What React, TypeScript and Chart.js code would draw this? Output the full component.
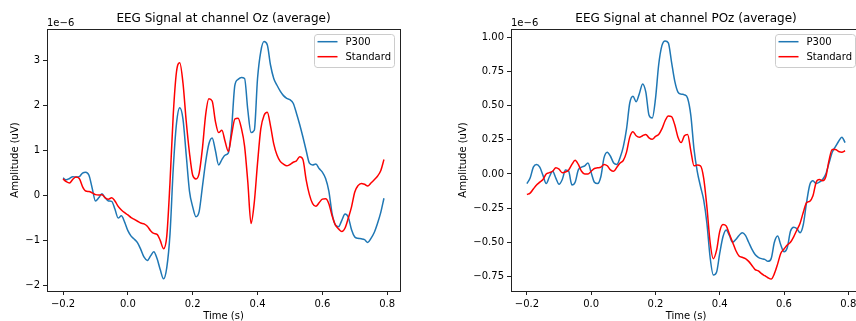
import React, { useEffect, useRef } from "react";
import { Chart, registerables } from "chart.js";
Chart.register(...registerables);

// Time axis (s)
const TIME = [
  -0.2, -0.19, -0.18, -0.17, -0.16, -0.15, -0.14, -0.13, -0.12, -0.11,
  -0.1, -0.09, -0.08, -0.07, -0.06, -0.05, -0.04, -0.03, -0.02, -0.01,
  0.0, 0.01, 0.02, 0.03, 0.04, 0.05, 0.06, 0.07, 0.08, 0.09,
  0.1, 0.11, 0.12, 0.13, 0.14, 0.15, 0.16, 0.17, 0.18, 0.19,
  0.2, 0.21, 0.22, 0.23, 0.24, 0.25, 0.26, 0.27, 0.28, 0.29,
  0.3, 0.31, 0.32, 0.33, 0.34, 0.35, 0.36, 0.37, 0.38, 0.39,
  0.4, 0.41, 0.42, 0.43, 0.44, 0.45, 0.46, 0.47, 0.48, 0.49,
  0.5, 0.51, 0.52, 0.53, 0.54, 0.55, 0.56, 0.57, 0.58, 0.59,
  0.6, 0.61, 0.62, 0.63, 0.64, 0.65, 0.66, 0.67, 0.68, 0.69,
  0.7, 0.71, 0.72, 0.73, 0.74, 0.75, 0.76, 0.77, 0.78, 0.79,
];

// Amplitudes in units of 1e-6
const OZ_P300 = [
  0.39, 0.35, 0.38, 0.42, 0.41, 0.42, 0.5, 0.52, 0.45, 0.16,
  -0.12, -0.05, 0.04, -0.05, -0.12, -0.13, -0.3, -0.5, -0.45, -0.59,
  -0.78, -0.9, -0.97, -1.05, -1.2, -1.37, -1.44, -1.34, -1.25, -1.4,
  -1.65, -1.85, -1.6, -0.85, 0.6, 1.6, 1.95, 1.7, 0.9, 0.1,
  -0.25, -0.47, -0.35, 0.2, 0.75, 1.15, 1.28, 1.0, 0.68, 0.8,
  0.9, 0.95, 1.5, 2.45, 2.58, 2.62, 2.6, 1.9, 1.4, 1.45,
  2.6, 3.2, 3.42, 3.35, 2.9, 2.6, 2.45, 2.32, 2.22, 2.16,
  2.13, 2.05, 1.83, 1.58, 1.3, 1.0, 0.72, 0.68, 0.7, 0.6,
  0.52, 0.38, 0.1, -0.4, -0.65, -0.69, -0.55, -0.41, -0.48, -0.76,
  -0.92, -0.95, -0.96, -0.98, -1.04, -0.95, -0.82, -0.62, -0.38, -0.06,
];
const OZ_STD = [
  0.37, 0.31, 0.28, 0.36, 0.41, 0.38, 0.2, 0.1, 0.09, 0.06,
  0.02, 0.01, 0.02, -0.05, -0.08, -0.05, -0.12, -0.24, -0.32, -0.38,
  -0.43, -0.49, -0.53, -0.57, -0.61, -0.63, -0.68, -0.78, -0.84, -0.86,
  -1.0, -1.18, -0.9, 0.3, 1.8, 2.75, 2.95, 2.5, 1.65, 0.95,
  0.45, 0.37, 0.5, 1.05, 1.8, 2.15, 2.1, 1.65, 1.4, 1.45,
  1.2, 0.98, 1.35, 1.7, 1.72, 1.5, 1.1, 0.3, -0.62, -0.15,
  0.72, 1.48, 1.78, 1.85, 1.55, 1.15, 0.9, 0.76, 0.7, 0.66,
  0.69, 0.74, 0.77, 0.86, 0.8, 0.35, 0.02, -0.18, -0.24, -0.16,
  -0.08, -0.07, -0.18, -0.45, -0.65, -0.74, -0.8, -0.72, -0.5, -0.25,
  0.08, 0.22, 0.27, 0.25, 0.21, 0.28, 0.35, 0.43, 0.55, 0.8,
];
const POZ_P300 = [
  -0.07, -0.03, 0.05, 0.07, 0.05, -0.01, -0.07, -0.02, 0.02, -0.03,
  -0.075, -0.04, 0.03, 0.02, -0.08, -0.06, 0.03, 0.05, 0.06, 0.08,
  0.01, -0.06, -0.07, -0.02, 0.12, 0.16, 0.13, 0.08, 0.07, 0.12,
  0.2, 0.33, 0.52, 0.57, 0.53, 0.59, 0.66, 0.6, 0.43, 0.41,
  0.55, 0.8, 0.94, 0.975, 0.96, 0.82, 0.68, 0.6, 0.585, 0.58,
  0.555, 0.43, 0.18, 0.02, -0.09, -0.19, -0.36, -0.61, -0.74, -0.72,
  -0.58, -0.46, -0.41, -0.45, -0.5, -0.48, -0.45, -0.43, -0.45, -0.5,
  -0.55, -0.59, -0.61, -0.62, -0.625, -0.64, -0.62, -0.5, -0.455, -0.52,
  -0.57, -0.54, -0.42, -0.39, -0.4, -0.43, -0.37, -0.21, -0.08, -0.05,
  -0.07, -0.06, -0.04, 0.0, 0.08, 0.16, 0.2, 0.24, 0.27, 0.23,
];
const POZ_STD = [
  -0.15, -0.14, -0.11, -0.08, -0.06, -0.04, 0.0, 0.01, 0.02, 0.045,
  0.035, 0.01, 0.015, 0.03, 0.07, 0.1, 0.07, 0.02, 0.0, 0.0,
  0.02, 0.04, 0.045, 0.05, 0.07, 0.06, 0.03, 0.02, 0.05, 0.08,
  0.1, 0.16, 0.27, 0.31, 0.28, 0.27, 0.28, 0.29, 0.265, 0.255,
  0.275, 0.29, 0.33, 0.39, 0.425, 0.42, 0.36, 0.27, 0.23, 0.28,
  0.29, 0.17, 0.06, 0.065, 0.06, -0.03, -0.24, -0.5, -0.62, -0.56,
  -0.42, -0.37, -0.38, -0.44, -0.5, -0.56, -0.6, -0.61, -0.62, -0.64,
  -0.67, -0.7, -0.71, -0.73, -0.745, -0.76, -0.77, -0.73, -0.66, -0.58,
  -0.55, -0.52, -0.5, -0.46, -0.41, -0.36, -0.28, -0.21, -0.2, -0.16,
  -0.06, -0.04, -0.05, -0.02, 0.1, 0.18, 0.18, 0.165, 0.16, 0.17,
];

const X_TICKS = [-0.2, 0.0, 0.2, 0.4, 0.6, 0.8];
const OZ_Y_TICKS = [-2, -1, 0, 1, 2, 3];
const POZ_Y_TICKS = [-0.75, -0.5, -0.25, 0.0, 0.25, 0.5, 0.75, 1.0];
const SERIES_NAMES = ["P300", "Standard"];
const TITLES = ["EEG Signal at channel Oz (average)", "EEG Signal at channel POz (average)"];

const BLUE = "#1f77b4";
const RED = "#ff0000";
const FONT = '"DejaVu Sans", sans-serif';
const H = 321;

function fmt(v: number, d: number) {
  const s = Math.abs(v).toFixed(d);
  return (v < -1e-9 ? "\u2212" : "") + s;
}

type Panel = {
  title: string;
  p300: number[];
  std: number[];
  yMin: number;
  yMax: number;
  yTicks: number[];
  yDec: number;
  canvasLeft: number;
  canvasWidth: number;
  areaLeft: number;
  areaRight: number;
  yLabelX: number;
};

const PANELS: Panel[] = [
  {
    title: TITLES[0], p300: OZ_P300, std: OZ_STD, yMin: -2.12, yMax: 3.7, yTicks: OZ_Y_TICKS, yDec: 0,
    canvasLeft: 0, canvasWidth: 428, areaLeft: 47, areaRight: 400, yLabelX: 15.5,
  },
  {
    title: TITLES[1], p300: POZ_P300, std: POZ_STD, yMin: -0.857, yMax: 1.062, yTicks: POZ_Y_TICKS, yDec: 2,
    canvasLeft: 428, canvasWidth: 450, areaLeft: 83, areaRight: 433, yLabelX: 35.5,
  },
];

function PanelChart({ p }: { p: Panel }) {
  const ref = useRef<HTMLCanvasElement | null>(null);
  useEffect(() => {
    if (!ref.current) return;
    const decor = {
      id: "decor",
      afterDraw(chart: any) {
        const ctx = chart.ctx as CanvasRenderingContext2D;
        const a = chart.chartArea;
        ctx.save();
        // frame
        ctx.strokeStyle = "#222";
        ctx.lineWidth = 1;
        ctx.strokeRect(a.left + 0.5, a.top + 0.5, a.right - a.left, a.bottom - a.top);
        ctx.fillStyle = "#000";
        // title
        ctx.font = `12px ${FONT}`;
        ctx.textAlign = "center";
        ctx.textBaseline = "alphabetic";
        ctx.fillText(p.title, (a.left + a.right) / 2, a.top - 7);
        // offset text
        ctx.font = `10px ${FONT}`;
        ctx.textAlign = "left";
        ctx.fillText("1e\u22126", a.left, a.top - 3);
        // x label
        ctx.textAlign = "center";
        ctx.textBaseline = "top";
        ctx.fillText("Time (s)", (a.left + a.right) / 2, 311);
        // y label
        ctx.save();
        ctx.translate(p.yLabelX, (a.top + a.bottom) / 2);
        ctx.rotate(-Math.PI / 2);
        ctx.textBaseline = "middle";
        ctx.textAlign = "center";
        ctx.fillText("Amplitude (uV)", 0, 0);
        ctx.restore();
        // legend
        ctx.font = `10px ${FONT}`;
        const tw = Math.max(...SERIES_NAMES.map((n) => ctx.measureText(n).width));
        const bw = 3.5 + 20 + 8 + tw + 3;
        const bRight = a.right - 6;
        const bLeft = bRight - bw;
        const bTop = a.top + 5;
        const bh = 33;
        const r = 3;
        ctx.beginPath();
        ctx.moveTo(bLeft + r, bTop + 0.5);
        ctx.lineTo(bRight - r, bTop + 0.5);
        ctx.arcTo(bRight + 0.5, bTop + 0.5, bRight + 0.5, bTop + r, r);
        ctx.lineTo(bRight + 0.5, bTop + bh - r);
        ctx.arcTo(bRight + 0.5, bTop + bh + 0.5, bRight - r, bTop + bh + 0.5, r);
        ctx.lineTo(bLeft + r, bTop + bh + 0.5);
        ctx.arcTo(bLeft + 0.5, bTop + bh + 0.5, bLeft + 0.5, bTop + bh - r, r);
        ctx.lineTo(bLeft + 0.5, bTop + r);
        ctx.arcTo(bLeft + 0.5, bTop + 0.5, bLeft + r, bTop + 0.5, r);
        ctx.closePath();
        ctx.fillStyle = "rgba(255,255,255,0.8)";
        ctx.fill();
        ctx.strokeStyle = "#cccccc";
        ctx.lineWidth = 1;
        ctx.stroke();
        const colors = [BLUE, RED];
        SERIES_NAMES.forEach((n, i) => {
          const y = bTop + 7.7 + i * 15;
          const lx = bLeft + 3.5;
          ctx.strokeStyle = colors[i];
          ctx.lineWidth = 1.5;
          ctx.beginPath();
          ctx.moveTo(lx, y);
          ctx.lineTo(lx + 20, y);
          ctx.stroke();
          ctx.fillStyle = "#000";
          ctx.textAlign = "left";
          ctx.textBaseline = "middle";
          ctx.fillText(n, lx + 28, y + 0.5);
        });
        ctx.restore();
      },
    };
    const mk = (vals: number[]) => TIME.map((t, i) => ({ x: t, y: vals[i] }));
    const tickFont = { family: FONT, size: 10 };
    const chart = new Chart(ref.current, {
      type: "line",
      data: {
        datasets: [
          { label: SERIES_NAMES[1], data: mk(p.std), borderColor: RED, borderWidth: 1.5, pointRadius: 0, cubicInterpolationMode: "monotone", fill: false },
          { label: SERIES_NAMES[0], data: mk(p.p300), borderColor: BLUE, borderWidth: 1.5, pointRadius: 0, cubicInterpolationMode: "monotone", fill: false },
        ],
      },
      options: {
        responsive: false,
        maintainAspectRatio: false,
        animation: false,
        devicePixelRatio: 1,
        events: [],
        layout: { padding: { left: 0, top: 29, right: p.canvasWidth - p.areaRight, bottom: 0 } },
        plugins: { legend: { display: false }, title: { display: false }, tooltip: { enabled: false } },
        scales: {
          x: {
            type: "linear",
            min: -0.2495,
            max: 0.8395,
            afterBuildTicks: (s: any) => { s.ticks = X_TICKS.map((v) => ({ value: v })); },
            afterFit: (s: any) => { s.height = H - 291; },
            ticks: { callback: (v: any) => fmt(Number(v), 1), font: tickFont, color: "#000", padding: 3, maxRotation: 0, autoSkip: false },
            grid: { display: true, drawOnChartArea: false, drawTicks: true, tickLength: 4, color: "#222", lineWidth: 1 },
            border: { display: false },
          },
          y: {
            type: "linear",
            min: p.yMin,
            max: p.yMax,
            afterBuildTicks: (s: any) => { s.ticks = p.yTicks.map((v) => ({ value: v })); },
            afterFit: (s: any) => { s.width = p.areaLeft; },
            ticks: { callback: (v: any) => fmt(Number(v), p.yDec), font: tickFont, color: "#000", padding: 3, autoSkip: false },
            grid: { display: true, drawOnChartArea: false, drawTicks: true, tickLength: 4, color: "#222", lineWidth: 1 },
            border: { display: false },
          },
        },
      } as any,
      plugins: [decor],
    });
    return () => chart.destroy();
  }, [p]);
  return (
    <canvas
      ref={ref}
      width={p.canvasWidth}
      height={H}
      style={{ position: "absolute", left: p.canvasLeft, top: 0, width: p.canvasWidth, height: H }}
    />
  );
}

export default function App() {
  return (
    <div style={{ position: "fixed", left: 0, top: 0, width: 856, height: H, overflow: "hidden", background: "#fff" }}>
      {PANELS.map((p, i) => (
        <PanelChart key={i} p={p} />
      ))}
    </div>
  );
}
